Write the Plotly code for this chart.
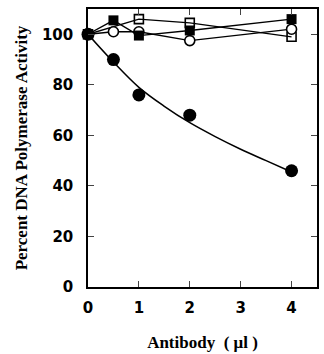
import plotly.graph_objects as go

# Filled circles (inhibited) - measured points
fc_x = [0, 0.5, 1, 2, 4]
fc_y = [100, 90, 76, 68, 46]
# Fitted curve
fit_x = [0, 0.5, 1, 1.5, 2, 2.5, 3, 3.5, 4]
fit_y = [100, 89, 79, 71.5, 65, 59.5, 54.5, 50, 45.5]
# Open circles
oc_x = [0, 0.5, 1, 2, 4]
oc_y = [100, 101, 101, 97.5, 102]
# Filled squares
fs_x = [0, 0.5, 1, 2, 4]
fs_y = [100, 105.5, 99.5, 101.5, 106]
# Open squares
os_x = [0, 1, 2, 4]
os_y = [100, 106, 104.5, 99]

x_ticks = [0, 1, 2, 3, 4]
y_ticks = [0, 20, 40, 60, 80, 100]

fig = go.Figure()
line = dict(color="black", width=1.3)
fig.add_trace(go.Scatter(x=os_x, y=os_y, mode="lines+markers", line=line,
                         marker=dict(symbol="square-open", size=9, color="black", line=dict(width=1.6)),
                         cliponaxis=False))
fig.add_trace(go.Scatter(x=oc_x, y=oc_y, mode="lines+markers", line=line,
                         marker=dict(symbol="circle", size=10, color="white", line=dict(width=1.6, color="black")),
                         cliponaxis=False))
fig.add_trace(go.Scatter(x=fs_x, y=fs_y, mode="lines+markers", line=line,
                         marker=dict(symbol="square", size=10, color="black"),
                         cliponaxis=False))
fig.add_trace(go.Scatter(x=fit_x, y=fit_y, mode="lines", line=dict(color="black", width=1.5, shape="spline"),
                         cliponaxis=False))
fig.add_trace(go.Scatter(x=fc_x, y=fc_y, mode="markers",
                         marker=dict(symbol="circle", size=13, color="black"),
                         cliponaxis=False))

tickfont = dict(family="DejaVu Sans", size=15, color="black", weight="bold")
titlefont = dict(family="Liberation Serif", size=17, color="black", weight="bold")

fig.update_xaxes(range=[0, 4.5], tickvals=x_ticks, ticks="inside", ticklen=6, tickwidth=1.3,
                 showline=True, linecolor="black", linewidth=1.5, mirror="ticks",
                 showgrid=False, zeroline=False, tickfont=tickfont, ticklabelstandoff=6,
                 title=dict(text="Antibody  ( μl )", font=titlefont, standoff=20))
fig.update_yaxes(range=[0, 110], tickvals=y_ticks, ticks="inside", ticklen=6, tickwidth=1.3,
                 showline=True, linecolor="black", linewidth=1.5, mirror="ticks",
                 showgrid=False, zeroline=False, tickfont=tickfont, ticklabelstandoff=10,
                 title=dict(text="Percent DNA Polymerase Activity", font=titlefont, standoff=10))

fig.update_layout(width=324, height=354, margin=dict(l=88, r=5, t=9, b=65),
                  paper_bgcolor="white", plot_bgcolor="white", showlegend=False)

fig.write_html("out.html")
